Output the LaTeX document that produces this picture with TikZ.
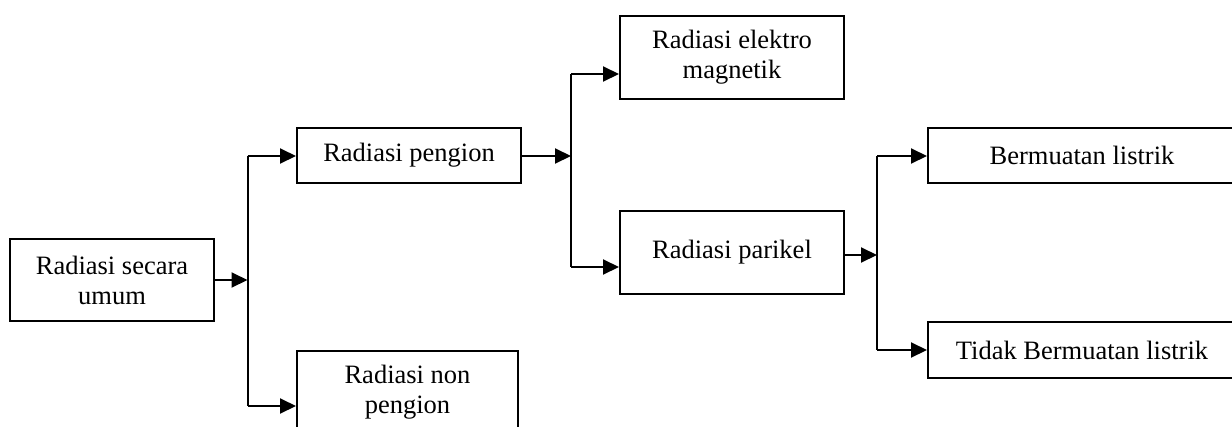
\documentclass[tikz,border=0pt]{standalone}
\usepackage{fontspec}
\setmainfont{Liberation Serif}
\usetikzlibrary{arrows.meta}
\tikzset{
  box/.style={draw, line width=2pt, rectangle, inner sep=0pt, align=center,
    font=\fontsize{26.5}{30}\selectfont},
  conn/.style={line width=2pt},
  arr/.style={line width=2pt, -{Triangle[length=16pt,width=15pt]}},
}
\begin{document}
\begin{tikzpicture}[x=1pt,y=-1pt]
\useasboundingbox (0,0) rectangle (1232,426);
\clip (0,0) rectangle (1232,426);
\node[box, minimum width=204pt, minimum height=82pt] (b1) at (112,280) {Radiasi secara\\umum};
\node[box, minimum width=224pt, minimum height=55pt] (b2) at (409,155.5) {Radiasi pengion};
\node[box, minimum width=221pt, minimum height=82pt] (b3) at (407.5,392) {Radiasi non\\pengion};
\node[box, minimum width=224pt, minimum height=83pt] (b4) at (732,57.5) {Radiasi elektro\\magnetik};
\node[box, minimum width=224pt, minimum height=83pt] (b5) at (732,252.5) {Radiasi parikel};
\node[box, minimum width=308pt, minimum height=55pt] (b6) at (1082,155.5) {Bermuatan listrik};
\node[box, minimum width=308pt, minimum height=56pt] (b7) at (1082,350) {Tidak Bermuatan listrik};

\coordinate (j1) at (247.5,280);
\coordinate (j1t) at (247.5,156);
\coordinate (j1b) at (247.5,406);
\coordinate (j2) at (571,156);
\coordinate (j2t) at (571,74);
\coordinate (j2b) at (571,267);
\coordinate (j3) at (877,255);
\coordinate (j3t) at (877,156);
\coordinate (j3b) at (877,350);

\draw[arr] (b1.east |- j1) -- (j1);
\draw[conn] (j1t) -- (j1b);
\draw[arr] (j1t) -- (b2.west |- j1t);
\draw[arr] (j1b) -- (b3.west |- j1b);

\draw[arr] (b2.east |- j2) -- (j2);
\draw[conn] (j2t) -- (j2b);
\draw[arr] (j2t) -- (b4.west |- j2t);
\draw[arr] (j2b) -- (b5.west |- j2b);

\draw[arr] (b5.east |- j3) -- (j3);
\draw[conn] (j3t) -- (j3b);
\draw[arr] (j3t) -- (b6.west |- j3t);
\draw[arr] (j3b) -- (b7.west |- j3b);
\end{tikzpicture}
\end{document}
